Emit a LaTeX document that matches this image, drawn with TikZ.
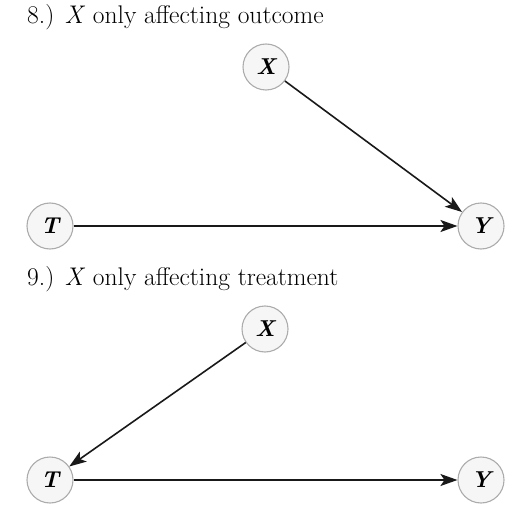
\documentclass[tikz,border=0pt]{standalone}
\usepackage{tikz}
\usetikzlibrary{arrows.meta,positioning}

\begin{document}
\begin{tikzpicture}[x=1pt,y=-1pt,>={Stealth[length=17pt,width=12pt,inset=4pt]},
  var/.style={circle,draw=gray!65,fill=gray!7,line width=1.1pt,minimum size=46pt,inner sep=0pt,
    font=\fontsize{23}{23}\selectfont\bfseries\itshape},
  edge/.style={->,line width=1.6pt,black!90},
  caption/.style={anchor=base west,inner sep=0pt,font=\fontsize{25.5}{30}\selectfont}]
  \useasboundingbox (0,0) rectangle (519,513);
  % case 8: X points to the outcome only
  \node[caption] (title8) at (27,24) {8.) \textit{X} only affecting outcome};
  \node[var] (x8) at (266,67) {X};
  \node[var] (t8) at (50,226) {T};
  \node[var] (y8) at (481,226) {Y};
  \draw[edge] (x8) -- (y8);
  \draw[edge] (t8) -- (y8);
  % case 9: X points to the treatment only
  \node[caption] (title9) at (27,285) {9.) \textit{X} only affecting treatment};
  \node[var] (x9) at (265,329) {X};
  \node[var] (t9) at (50,480) {T};
  \node[var] (y9) at (481,480) {Y};
  \draw[edge] (x9) -- (t9);
  \draw[edge] (t9) -- (y9);
\end{tikzpicture}
\end{document}
